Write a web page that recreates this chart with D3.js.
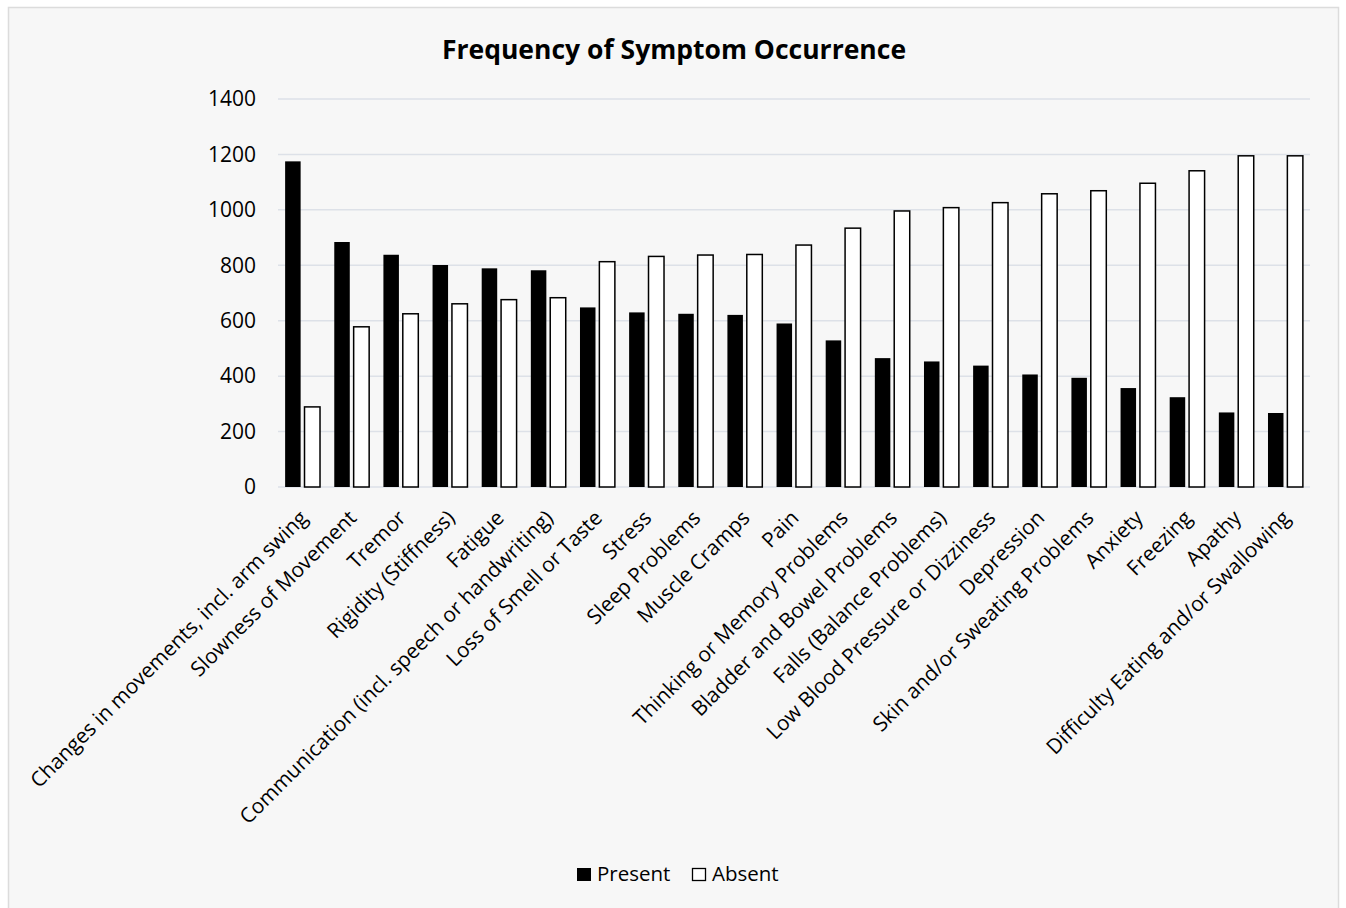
<!DOCTYPE html>
<html>
<head>
<meta charset="utf-8">
<script src="https://cdn.jsdelivr.net/npm/d3@7"></script>
<style>
  body { margin: 0; background: #fff; }
  text { font-family: "Open Sans", sans-serif; fill: #000; }
</style>
</head>
<body>
<div id="chart"></div>
<script>
// Frequency of Symptom Occurrence - grouped bars

var symptoms = [
  "Changes in movements, incl. arm swing", "Slowness of Movement", "Tremor",
  "Rigidity (Stiffness)", "Fatigue", "Communication (incl. speech or handwriting)",
  "Loss of Smell or Taste", "Stress", "Sleep Problems", "Muscle Cramps", "Pain",
  "Thinking or Memory Problems", "Bladder and Bowel Problems", "Falls (Balance Problems)",
  "Low Blood Pressure or Dizziness", "Depression", "Skin and/or Sweating Problems",
  "Anxiety", "Freezing", "Apathy", "Difficulty Eating and/or Swallowing"
];
var present = [1175, 884, 838, 801, 789, 782, 648, 630, 625, 621, 590, 529, 465, 453, 438, 406, 394, 357, 324, 269, 267];
var absent  = [289, 578, 625, 661, 676, 683, 813, 832, 837, 839, 873, 934, 996, 1008, 1026, 1058, 1069, 1096, 1141, 1195, 1195];
var series = ["Present", "Absent"];
var yTicks = [0, 200, 400, 600, 800, 1000, 1200, 1400];

var W = 1346, H = 908;
var margin = {top: 99, right: 36, bottom: 421, left: 278};
var width = W - margin.left - margin.right,
    height = H - margin.top - margin.bottom;

var svg = d3.select("#chart").append("svg")
    .attr("width", W)
    .attr("height", H);

// chart area frame
svg.append("rect")
    .attr("x", 8.5).attr("y", 7.5)
    .attr("width", 1330).attr("height", 920)
    .attr("fill", "#f7f7f7")
    .attr("stroke", "#dcdcdc")
    .attr("stroke-width", 1.5);

svg.append("text")
    .attr("x", 674).attr("y", 59)
    .attr("text-anchor", "middle")
    .style("font-weight", "bold")
    .style("font-size", "26.5px")
    .text("Frequency of Symptom Occurrence");

var g = svg.append("g")
    .attr("transform", "translate(" + margin.left + "," + margin.top + ")");

var x0 = d3.scaleBand()
    .domain(symptoms)
    .range([0, width])
    .paddingInner(0.29)
    .paddingOuter(0.145);

var x1 = d3.scaleBand()
    .domain(series)
    .range([0, x0.bandwidth()])
    .paddingInner(0.2);

var y = d3.scaleLinear()
    .domain([0, 1400])
    .range([height, 0]);

// gridlines
g.append("g")
    .selectAll("line")
    .data(yTicks)
    .enter()
    .append("line")
      .attr("x1", 0).attr("x2", width)
      .attr("y1", function(d) { return y(d); })
      .attr("y2", function(d) { return y(d); })
      .attr("stroke", "#dde1e8")
      .attr("stroke-width", 1.5);

// y axis labels
var yAxis = g.append("g")
    .call(d3.axisLeft(y).tickValues(yTicks).tickFormat(d3.format("d")).tickSize(0).tickPadding(22));
yAxis.select(".domain").remove();
yAxis.selectAll("text")
    .style("font-size", "21px")
    .style("font-family", "'Open Sans', sans-serif");

var rows = symptoms.map(function(s, i) {
  return {name: s, values: [
    {key: "Present", value: present[i]},
    {key: "Absent", value: absent[i]}
  ]};
});

var groups = g.selectAll(".grp")
    .data(rows)
    .enter()
    .append("g")
      .attr("class", "grp")
      .attr("transform", function(d) { return "translate(" + x0(d.name) + ",0)"; });

groups.selectAll("rect")
    .data(function(d) { return d.values; })
    .enter()
    .append("rect")
      .attr("x", function(d) { return x1(d.key); })
      .attr("y", function(d) { return y(d.value); })
      .attr("width", x1.bandwidth())
      .attr("height", function(d) { return height - y(d.value); })
      .attr("fill", function(d) { return d.key == "Present" ? "#000" : "#fff"; })
      .attr("stroke", function(d) { return d.key == "Present" ? "none" : "#000"; })
      .attr("stroke-width", 1.5);

// x labels, rotated
g.append("g")
    .selectAll("text")
    .data(symptoms)
    .enter()
    .append("text")
      .attr("transform", function(d) {
        var cx = x0(d) + x0.bandwidth() / 2 + 1;
        return "translate(" + cx + "," + (height + 27) + ") rotate(-45)";
      })
      .attr("text-anchor", "end")
      .attr("dy", "0.35em")
      .style("font-size", "20.8px")
      .text(function(d) { return d; });

// legend
var legend = svg.append("g").attr("transform", "translate(577,868)");
legend.append("rect")
    .attr("x", 0).attr("y", 0).attr("width", 14).attr("height", 13)
    .attr("fill", "#000");
legend.append("rect")
    .attr("x", 115.5).attr("y", 0.5).attr("width", 13).attr("height", 12)
    .attr("fill", "#fff").attr("stroke", "#000").attr("stroke-width", 1.3);
legend.selectAll(".lt")
    .data(series)
    .enter()
    .append("text")
      .attr("class", "lt")
      .attr("x", function(d, i) { return i == 0 ? 20 : 135; })
      .attr("y", 13)
      .style("font-size", "20.5px")
      .text(function(d) { return d; });
</script>
</body>
</html>
